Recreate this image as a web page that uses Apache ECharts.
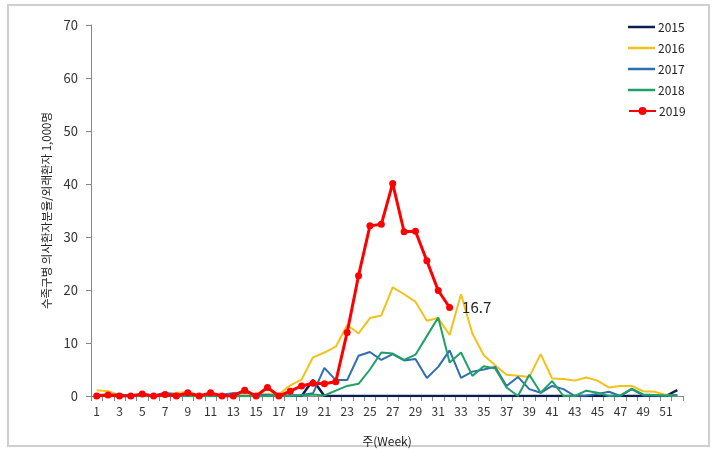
<!DOCTYPE html>
<html>
<head>
<meta charset="utf-8">
<script src="https://cdn.jsdelivr.net/npm/echarts@6/dist/echarts.min.js"></script>
<style>html,body{margin:0;padding:0;background:#fff}#c{width:718px;height:449px}</style>
</head>
<body>
<div id="c"></div>
<script>
const weeks = Array.from({length:52},(_, i)=>String(i+1));
const s2015 = [0,0,0,0,0,0,0,0,0,0,0,0,0,0,0,0,0,0,0,3.0,0,0,0,0,0,0,0,0,0,0,0,0,0,0,0,0,0,0,0,0,0,0,0,0,0,0,0,0,0,0,0,1.1];
const s2016 = [1.1,0.9,0.2,0.1,0.2,0.1,0.3,0.6,0.7,0.2,0.3,0.2,0.3,0.5,0.2,0.4,0.3,2.0,3.1,7.3,8.2,9.3,13.4,11.8,14.7,15.2,20.5,19.2,17.8,14.2,14.7,11.5,19.2,11.8,7.7,5.8,4.0,3.8,3.6,7.9,3.3,3.2,2.9,3.5,2.9,1.6,1.9,1.9,0.9,0.8,0.2,0.1];
const s2017 = [0.2,0.3,0.3,0.1,0.1,0.1,0.6,0.3,0.2,0.1,0.2,0.3,0.5,0.7,0.3,0.2,0.1,0.1,0.2,0.5,5.3,3.0,3.0,7.6,8.3,6.8,7.9,6.7,7.0,3.4,5.5,8.6,3.4,4.6,5.0,5.5,1.9,3.6,1.3,0.6,1.9,1.3,0,0.1,0.4,0.8,0,1.3,0.1,0.1,0,0.2];
const s2018 = [0,0,0,0,0,0,0,0,0,0,0,0,0,0,0,0,0,0,0.1,0.3,0.1,1.0,1.9,2.3,5.0,8.2,8.0,6.8,7.8,11.3,14.8,6.3,8.2,3.8,5.6,5.2,1.6,0,4.0,0.6,2.8,0,0,1.0,0.6,0,0.1,1.4,0.3,0.2,0.1,0.1];
const s2019 = [0,0.2,0,0,0.4,0,0.3,0,0.6,0,0.6,0,0,1.1,0,1.6,0,0.9,1.9,2.4,2.3,2.7,12.0,22.7,32.1,32.4,40.1,31.0,31.1,25.5,19.9,16.7];
const yTicks = [0,10,20,30,40,50,60,70];

const font = '"Noto Sans CJK KR", "Noto Sans", sans-serif';
const chart = echarts.init(document.getElementById('c'), null, {renderer:'canvas'});
const last = s2019.length - 1;
const d2019 = s2019.map((v,i)=> i===last ? {value:v, label:{show:true, position:'right', distance:9, formatter:'{c}', fontSize:15, color:'#222', fontFamily:font}} : v);
function line(name, data, color, width){
  return {name, type:'line', data, showSymbol:false, symbol:'none', lineStyle:{color, width}, itemStyle:{color}, z:2};
}
const legendText = {fontSize:12, color:'#222', fontFamily:font, padding:[0,0,0,-2]};
chart.setOption({
  animation:false,
  backgroundColor:'#fff',
  textStyle:{fontFamily:font},
  graphic:[{type:'rect', shape:{x:8, y:5, width:701, height:441}, style:{fill:'none', stroke:'#cfcfcf', lineWidth:2}, silent:true}],
  grid:{left:91, right:35, top:25, bottom:53, containLabel:false, outerBoundsMode:'none'},
  legend:[
    {orient:'vertical', left:623, top:16, itemGap:9, itemWidth:27, itemHeight:2.5, icon:'rect',
     textStyle:legendText, data:['2015','2016','2017','2018']},
    {orient:'vertical', left:623, top:100, itemWidth:27, itemHeight:10,
     textStyle:legendText, data:['2019']}
  ],
  xAxis:{
    type:'category', data:weeks, boundaryGap:true,
    name:'주(Week)', nameLocation:'middle', nameGap:39,
    nameTextStyle:{fontSize:12, color:'#222', fontFamily:font},
    axisLine:{lineStyle:{color:'#888', width:1}},
    axisTick:{show:true, interval:0, length:5, lineStyle:{color:'#888'}},
    axisLabel:{interval:1, fontSize:12, color:'#333', margin:9, fontFamily:font},
    splitLine:{show:false}
  },
  yAxis:{
    type:'value', min:0, max:70, interval:10,
    name:'수족구병 의사환자분율/외래환자 1,000명', nameLocation:'middle', nameGap:32, nameRotate:90,
    nameTextStyle:{fontSize:11.5, color:'#222', fontFamily:font},
    axisLine:{show:true, lineStyle:{color:'#888', width:1}},
    axisTick:{show:true, length:5, lineStyle:{color:'#888'}},
    axisLabel:{fontSize:13, color:'#333', margin:13, fontFamily:font, formatter:(v)=> yTicks.includes(v)? String(v):''},
    splitLine:{show:false}
  },
  series:[
    line('2015', s2015, '#0c1f52', 2.5),
    line('2016', s2016, '#f2c21b', 2),
    line('2017', s2017, '#2e6fb2', 2),
    line('2018', s2018, '#1fa067', 2),
    {name:'2019', type:'line', data:d2019, symbol:'circle', symbolSize:7, showSymbol:true,
     lineStyle:{color:'#ff0000', width:3}, itemStyle:{color:'#ff0000'}, z:5}
  ]
});
</script>
</body>
</html>
